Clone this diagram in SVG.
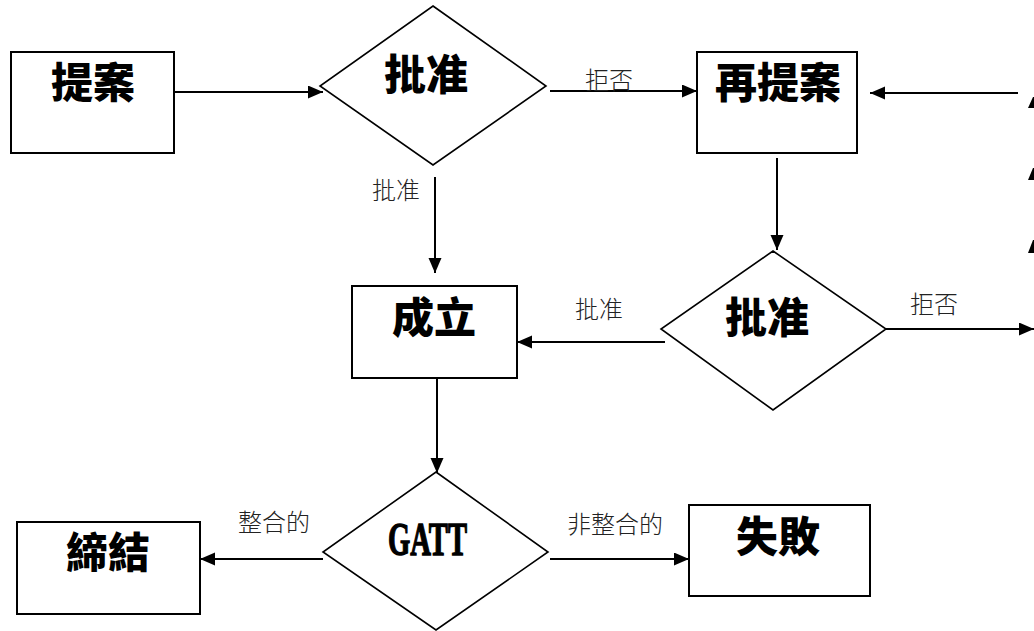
<svg xmlns="http://www.w3.org/2000/svg" width="1034" height="631" viewBox="0 0 1034 631">
<style>
.box{fill:#fff;stroke:#000;stroke-width:2}
.dia{fill:#fff;stroke:#000;stroke-width:1.6}
.ln{fill:none;stroke:#000;stroke-width:2}
.big{font-family:"Noto Sans CJK TC","Noto Sans CJK JP",sans-serif;font-weight:900;font-size:42px;fill:#000;text-anchor:middle}
.lbl{font-family:"Noto Sans CJK TC","Noto Sans CJK JP",sans-serif;font-weight:300;font-size:24px;fill:#222}
</style>
<defs>
<marker id="ah" markerUnits="userSpaceOnUse" markerWidth="16" markerHeight="14" refX="15" refY="6.5" orient="auto">
<path d="M0,0 L15,6.5 L0,13 z" fill="#000"/>
</marker>
</defs>
<g id="connectors">
<line class="ln" x1="174" y1="92" x2="323" y2="92" marker-end="url(#ah)"/>
<line class="ln" x1="550" y1="91" x2="697" y2="91" marker-end="url(#ah)"/>
<line class="ln" x1="1018" y1="93" x2="870" y2="93" marker-end="url(#ah)"/>
<line class="ln" x1="435" y1="177" x2="435" y2="273" marker-end="url(#ah)"/>
<line class="ln" x1="777" y1="158" x2="777" y2="250" marker-end="url(#ah)"/>
<line class="ln" x1="665" y1="342" x2="517" y2="342" marker-end="url(#ah)"/>
<line class="ln" x1="886" y1="329" x2="1034" y2="329" marker-end="url(#ah)"/>
<line class="ln" x1="437" y1="378" x2="437" y2="473" marker-end="url(#ah)"/>
<line class="ln" x1="323" y1="559" x2="200" y2="559" marker-end="url(#ah)"/>
<line class="ln" x1="550" y1="559" x2="689" y2="559" marker-end="url(#ah)"/>
<text class="lbl" x="585" y="89">拒否</text>
<text class="lbl" x="372" y="199">批准</text>
<text class="lbl" x="575" y="318">批准</text>
<text class="lbl" x="910" y="313">拒否</text>
<text class="lbl" x="238" y="531">整合的</text>
<text class="lbl" x="567" y="533">非整合的</text>
</g>
<g id="n-teian"><rect class="box" x="11" y="52" width="163" height="101"/><text class="big" x="93" y="98">提案</text></g>
<g id="n-shonin1"><polygon class="dia" points="433,6 546,86 433,165 320,86"/><text class="big" x="426" y="90">批准</text></g>
<g id="n-saiteian"><rect class="box" x="697" y="52" width="160" height="101"/><text class="big" x="778" y="98">再提案</text></g>
<g id="n-seiritsu"><rect class="box" x="352" y="286" width="165" height="92"/><text class="big" x="434" y="333">成立</text></g>
<g id="n-shonin2"><polygon class="dia" points="773,251 886,329 773,410 661,329"/><text class="big" x="767" y="333">批准</text></g>
<g id="n-gatt"><polygon class="dia" points="436,472 548,552 436,630 323,552"/><text x="388" y="555" font-family="Liberation Serif" font-weight="bold" font-size="46" stroke="#000" stroke-width="1.4" textLength="79" lengthAdjust="spacingAndGlyphs">GATT</text></g>
<g id="n-teiketsu"><rect class="box" x="17" y="522" width="183" height="92"/><text class="big" x="108" y="568">締結</text></g>
<g id="n-shippai"><rect class="box" x="689" y="505" width="181" height="91"/><text class="big" x="778" y="552">失敗</text></g>
<g id="edge-marks" fill="#000">
<polygon points="1028,108 1033,97 1034,97 1034,108"/>
<polygon points="1028,180 1033,168 1034,168 1034,180"/>
<polygon points="1028,253 1033,240 1034,240 1034,253"/>
</g>
</svg>
